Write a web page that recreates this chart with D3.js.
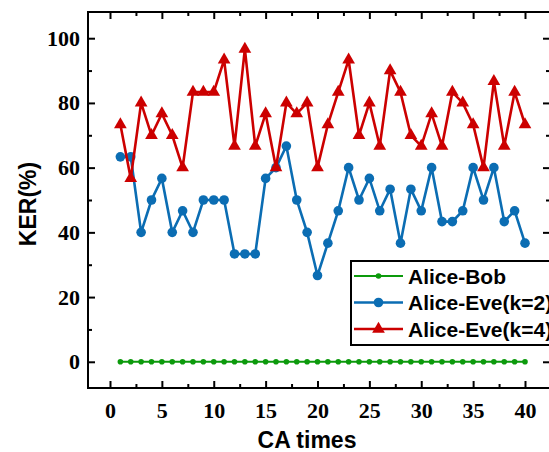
<!DOCTYPE html>
<html>
<head>
<meta charset="utf-8">
<script src="https://cdn.jsdelivr.net/npm/d3@7"></script>
<style>
  body { margin: 0; background: #fff; }
  svg { display: block; }
</style>
</head>
<body>
<script>
  var width = 549, height = 452;

  // CA times 1..40
  var caTimes = d3.range(1, 41);
  // KER(%) values
  var aliceBob = caTimes.map(function() { return 0; });
  var aliceEveK2 = [63.33, 63.33, 40, 50, 56.67, 40, 46.67, 40, 50, 50,
    50, 33.33, 33.33, 33.33, 56.67, 60, 66.67, 50, 40, 26.67,
    36.67, 46.67, 60, 50, 56.67, 46.67, 53.33, 36.67, 53.33, 46.67,
    60, 43.33, 43.33, 46.67, 60, 50, 60, 43.33, 46.67, 36.67];
  var aliceEveK4 = [73.33, 56.67, 80, 70, 76.67, 70, 60, 83.33, 83.33, 83.33,
    93.33, 66.67, 96.67, 66.67, 76.67, 60, 80, 76.67, 80, 60,
    73.33, 83.33, 93.33, 70, 80, 66.67, 90, 83.33, 70, 66.67,
    76.67, 66.67, 83.33, 80, 73.33, 60, 86.67, 66.67, 83.33, 73.33];

  var seriesNames = ["Alice-Bob", "Alice-Eve(k=2)", "Alice-Eve(k=4)"];
  var xTicks = [0, 5, 10, 15, 20, 25, 30, 35, 40];
  var yTicks = [0, 20, 40, 60, 80, 100];

  var green = "#0c9a0c", blue = "#0b6db3", red = "#cc0000";

  //plot box (window.top is taken, so m.*)
  var m = {l: 88, r: 550, t: 12, b: 388};

  var x = d3.scaleLinear().domain([-2.12, 42.41]).range([m.l, m.r]);
  var y = d3.scaleLinear().domain([-8.1, 108.1]).range([m.b, m.t]);

  var svg = d3.select("body").append("svg")
    .attr("width", width).attr("height", height);

  var serif = "'Liberation Serif', 'Times New Roman', serif";
  var sans = "'Liberation Sans', Arial, sans-serif";

  //minor ticks first
  var xMinor = d3.range(2.5, 42, 5);
  var yMinor = d3.range(10, 101, 20);

  function styleAxis(g) {
    g.select(".domain").remove();
    g.attr("font-size", null).attr("font-family", null);
    g.selectAll("line").attr("stroke", "#000").attr("stroke-width", 2);
    g.selectAll("text").attr("font-family", serif).attr("font-weight", "bold")
      .attr("font-size", 22).attr("fill", "#000");
  }

  svg.append("g").attr("transform", "translate(0," + m.b + ")")
    .call(d3.axisBottom(x).tickValues(xMinor).tickSize(-4).tickFormat(""))
    .call(styleAxis);
  svg.append("g").attr("transform", "translate(0," + m.t + ")")
    .call(d3.axisTop(x).tickValues(xMinor).tickSize(-4).tickFormat(""))
    .call(styleAxis);
  svg.append("g").attr("transform", "translate(" + m.l + ",0)")
    .call(d3.axisLeft(y).tickValues(yMinor).tickSize(-4).tickFormat(""))
    .call(styleAxis);
  svg.append("g").attr("transform", "translate(" + m.r + ",0)")
    .call(d3.axisRight(y).tickValues(yMinor).tickSize(-4).tickFormat(""))
    .call(styleAxis);

  //major ticks
  svg.append("g").attr("transform", "translate(0," + m.b + ")")
    .call(d3.axisBottom(x).tickValues(xTicks).tickSize(-7).tickPadding(14))
    .call(styleAxis);
  svg.append("g").attr("transform", "translate(0," + m.t + ")")
    .call(d3.axisTop(x).tickValues(xTicks).tickSize(-7).tickFormat(""))
    .call(styleAxis);
  svg.append("g").attr("transform", "translate(" + m.l + ",0)")
    .call(d3.axisLeft(y).tickValues(yTicks).tickSize(-7).tickPadding(8))
    .call(styleAxis);
  svg.append("g").attr("transform", "translate(" + m.r + ",0)")
    .call(d3.axisRight(y).tickValues(yTicks).tickSize(-7).tickFormat(""))
    .call(styleAxis);

  //frame
  svg.append("rect").attr("x", m.l).attr("y", m.t)
    .attr("width", m.r - m.l).attr("height", m.b - m.t)
    .attr("fill", "none").attr("stroke", "#000").attr("stroke-width", 2);

  //axis titles
  svg.append("text").attr("x", 307).attr("y", 448)
    .attr("text-anchor", "middle").attr("font-family", sans)
    .attr("font-weight", "bold").attr("font-size", 23).text("CA times");
  svg.append("text").attr("transform", "translate(36,204)rotate(-90)")
    .attr("text-anchor", "middle").attr("font-family", sans)
    .attr("font-weight", "bold").attr("font-size", 23).text("KER(%)");

  var line = d3.line()
    .x(function(d, i) { return x(caTimes[i]); })
    .y(function(d) { return y(d); });

  var tri = d3.symbol().type(d3.symbolTriangle).size(70);

  //green
  svg.append("path").datum(aliceBob).attr("d", line)
    .attr("fill", "none").attr("stroke", green).attr("stroke-width", 2);
  svg.selectAll(".gdot").data(aliceBob).enter().append("circle")
    .attr("class", "gdot")
    .attr("cx", function(d, i) { return x(caTimes[i]); })
    .attr("cy", function(d) { return y(d); })
    .attr("r", 2.8).attr("fill", green);

  //blue
  svg.append("path").datum(aliceEveK2).attr("d", line)
    .attr("fill", "none").attr("stroke", blue).attr("stroke-width", 2.6);
  svg.selectAll(".bdot").data(aliceEveK2).enter().append("circle")
    .attr("class", "bdot")
    .attr("cx", function(d, i) { return x(caTimes[i]); })
    .attr("cy", function(d) { return y(d); })
    .attr("r", 4.8).attr("fill", blue);

  //red
  svg.append("path").datum(aliceEveK4).attr("d", line)
    .attr("fill", "none").attr("stroke", red).attr("stroke-width", 2.6);
  svg.selectAll(".rtri").data(aliceEveK4).enter().append("path")
    .attr("class", "rtri")
    .attr("d", tri)
    .attr("transform", function(d, i) {
      return "translate(" + x(caTimes[i]) + "," + y(d) + ")";
    })
    .attr("fill", red);

  //legend
  var lg = svg.append("g");
  lg.append("rect").attr("x", 351).attr("y", 261)
    .attr("width", 220).attr("height", 84)
    .attr("fill", "#fff").attr("stroke", "#000").attr("stroke-width", 2);
  var colors = [green, blue, red];
  var rowY = [276, 302.5, 329];
  seriesNames.forEach(function(name, i) {
    var yy = rowY[i];
    lg.append("line").attr("x1", 354).attr("x2", 403).attr("y1", yy).attr("y2", yy)
      .attr("stroke", colors[i]).attr("stroke-width", i == 0 ? 2 : 2.6);
    if (i == 0) {
      lg.append("circle").attr("cx", 378.5).attr("cy", yy).attr("r", 2.8).attr("fill", green);
    } else if (i == 1) {
      lg.append("circle").attr("cx", 378.5).attr("cy", yy).attr("r", 4.8).attr("fill", blue);
    } else {
      lg.append("path").attr("d", tri).attr("transform", "translate(378.5," + yy + ")").attr("fill", red);
    }
    lg.append("text").attr("x", 408).attr("y", yy).attr("dy", "0.36em")
      .attr("font-family", sans).attr("font-weight", "bold")
      .attr("font-size", 21).text(name);
  });
</script>
</body>
</html>
